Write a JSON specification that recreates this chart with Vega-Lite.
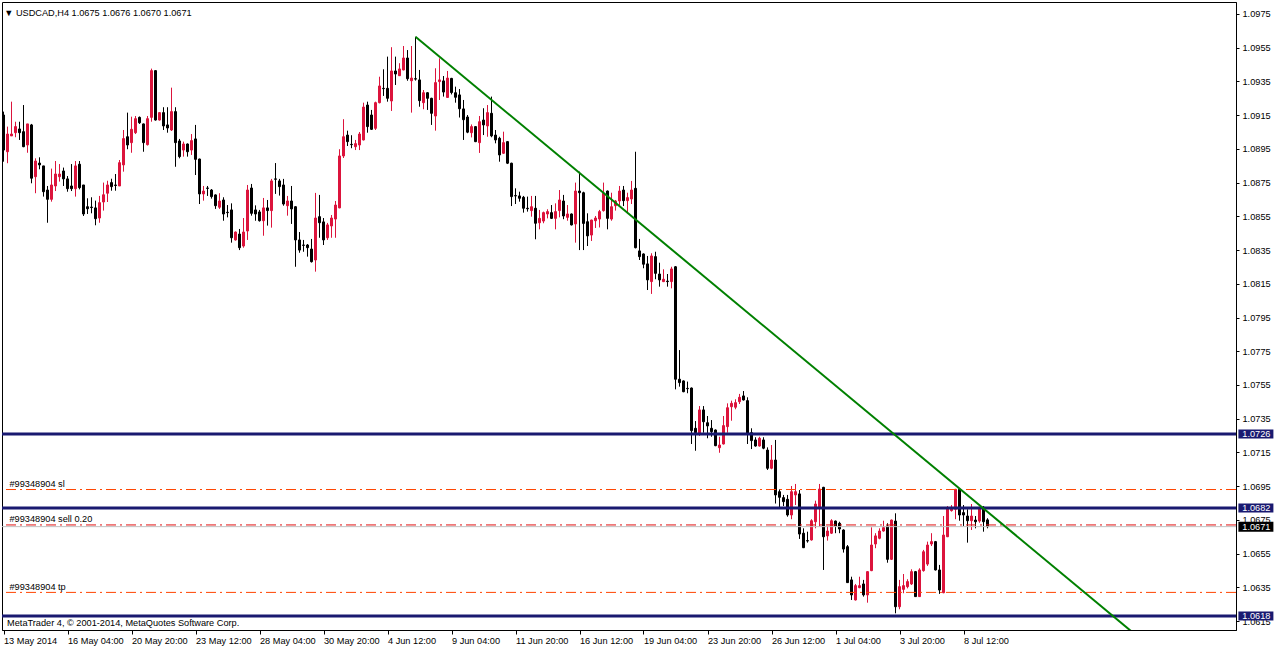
{
"$schema": "https://vega.github.io/schema/vega-lite/v6.json",
"width": 1234, "height": 628,
"autosize": {"type": "none"},
"padding": {"left": 2, "top": 2, "right": 40, "bottom": 18},
"background": "white",
"config": {"view": {"stroke": "#000000", "strokeWidth": 1}, "font": "Liberation Sans"},
"resolve": {"axis": {"x": "independent", "y": "independent"}},
"datasets": {
"candles": [
{"i":0,"o":1.09151,"h":1.09171,"l":1.08874,"c":1.08943},
{"i":1,"o":1.08933,"h":1.09082,"l":1.08865,"c":1.09038},
{"i":2,"o":1.09027,"h":1.09230,"l":1.09027,"c":1.09038},
{"i":3,"o":1.09046,"h":1.09111,"l":1.09019,"c":1.09082},
{"i":4,"o":1.09068,"h":1.09111,"l":1.09003,"c":1.09046},
{"i":5,"o":1.09052,"h":1.09210,"l":1.08960,"c":1.08963},
{"i":6,"o":1.08973,"h":1.09098,"l":1.08927,"c":1.09098},
{"i":7,"o":1.09092,"h":1.09098,"l":1.08746,"c":1.08776},
{"i":8,"o":1.08785,"h":1.08894,"l":1.08687,"c":1.08878},
{"i":9,"o":1.08866,"h":1.08900,"l":1.08829,"c":1.08855},
{"i":10,"o":1.08849,"h":1.08849,"l":1.08667,"c":1.08696},
{"i":11,"o":1.08706,"h":1.08730,"l":1.08512,"c":1.08651},
{"i":12,"o":1.08651,"h":1.08833,"l":1.08637,"c":1.08736},
{"i":13,"o":1.08730,"h":1.08878,"l":1.08700,"c":1.08801},
{"i":14,"o":1.08785,"h":1.08860,"l":1.08756,"c":1.08801},
{"i":15,"o":1.08819,"h":1.08839,"l":1.08730,"c":1.08772},
{"i":16,"o":1.08772,"h":1.08789,"l":1.08696,"c":1.08714},
{"i":17,"o":1.08730,"h":1.08860,"l":1.08700,"c":1.08714},
{"i":18,"o":1.08714,"h":1.08878,"l":1.08667,"c":1.08849},
{"i":19,"o":1.08859,"h":1.08878,"l":1.08710,"c":1.08720},
{"i":20,"o":1.08736,"h":1.08736,"l":1.08552,"c":1.08564},
{"i":21,"o":1.08607,"h":1.08657,"l":1.08564,"c":1.08595},
{"i":22,"o":1.08605,"h":1.08663,"l":1.08568,"c":1.08602},
{"i":23,"o":1.08600,"h":1.08643,"l":1.08497,"c":1.08536},
{"i":24,"o":1.08540,"h":1.08671,"l":1.08512,"c":1.08631},
{"i":25,"o":1.08635,"h":1.08750,"l":1.08584,"c":1.08678},
{"i":26,"o":1.08687,"h":1.08761,"l":1.08635,"c":1.08736},
{"i":27,"o":1.08750,"h":1.08773,"l":1.08702,"c":1.08726},
{"i":28,"o":1.08736,"h":1.08801,"l":1.08702,"c":1.08733},
{"i":29,"o":1.08730,"h":1.08884,"l":1.08730,"c":1.08868},
{"i":30,"o":1.08855,"h":1.09062,"l":1.08815,"c":1.09011},
{"i":31,"o":1.09022,"h":1.09165,"l":1.08948,"c":1.08973},
{"i":32,"o":1.08987,"h":1.09141,"l":1.08927,"c":1.09066},
{"i":33,"o":1.09046,"h":1.09145,"l":1.09038,"c":1.09129},
{"i":34,"o":1.09137,"h":1.09142,"l":1.09098,"c":1.09105},
{"i":35,"o":1.09098,"h":1.09100,"l":1.08933,"c":1.08987},
{"i":36,"o":1.08975,"h":1.09145,"l":1.08970,"c":1.09129},
{"i":37,"o":1.09137,"h":1.09426,"l":1.09111,"c":1.09414},
{"i":38,"o":1.09414,"h":1.09416,"l":1.09118,"c":1.09121},
{"i":39,"o":1.09121,"h":1.09167,"l":1.09118,"c":1.09165},
{"i":40,"o":1.09165,"h":1.09197,"l":1.09062,"c":1.09086},
{"i":41,"o":1.09092,"h":1.09197,"l":1.09046,"c":1.09074},
{"i":42,"o":1.09062,"h":1.09313,"l":1.09056,"c":1.09171},
{"i":43,"o":1.09171,"h":1.09197,"l":1.08844,"c":1.08987},
{"i":44,"o":1.08997,"h":1.09009,"l":1.08894,"c":1.08904},
{"i":45,"o":1.08943,"h":1.08993,"l":1.08904,"c":1.08979},
{"i":46,"o":1.08979,"h":1.08982,"l":1.08904,"c":1.08933},
{"i":47,"o":1.08943,"h":1.09038,"l":1.08914,"c":1.08999},
{"i":48,"o":1.09009,"h":1.09092,"l":1.08795,"c":1.08888},
{"i":49,"o":1.08890,"h":1.08892,"l":1.08623,"c":1.08683},
{"i":50,"o":1.08683,"h":1.08730,"l":1.08643,"c":1.08700},
{"i":51,"o":1.08718,"h":1.08730,"l":1.08671,"c":1.08716},
{"i":52,"o":1.08706,"h":1.08712,"l":1.08655,"c":1.08667},
{"i":53,"o":1.08677,"h":1.08680,"l":1.08594,"c":1.08613},
{"i":54,"o":1.08604,"h":1.08687,"l":1.08594,"c":1.08641},
{"i":55,"o":1.08647,"h":1.08663,"l":1.08524,"c":1.08564},
{"i":56,"o":1.08574,"h":1.08617,"l":1.08544,"c":1.08572},
{"i":57,"o":1.08588,"h":1.08627,"l":1.08394,"c":1.08423},
{"i":58,"o":1.08410,"h":1.08460,"l":1.08406,"c":1.08457},
{"i":59,"o":1.08445,"h":1.08475,"l":1.08350,"c":1.08364},
{"i":60,"o":1.08374,"h":1.08540,"l":1.08364,"c":1.08457},
{"i":61,"o":1.08463,"h":1.08736,"l":1.08410,"c":1.08706},
{"i":62,"o":1.08718,"h":1.08742,"l":1.08554,"c":1.08568},
{"i":63,"o":1.08588,"h":1.08615,"l":1.08524,"c":1.08564},
{"i":64,"o":1.08576,"h":1.08588,"l":1.08519,"c":1.08524},
{"i":65,"o":1.08524,"h":1.08659,"l":1.08435,"c":1.08600},
{"i":66,"o":1.08600,"h":1.08647,"l":1.08495,"c":1.08584},
{"i":67,"o":1.08584,"h":1.08772,"l":1.08483,"c":1.08760},
{"i":68,"o":1.08772,"h":1.08866,"l":1.08683,"c":1.08770},
{"i":69,"o":1.08760,"h":1.08772,"l":1.08673,"c":1.08726},
{"i":70,"o":1.08736,"h":1.08772,"l":1.08613,"c":1.08623},
{"i":71,"o":1.08613,"h":1.08671,"l":1.08554,"c":1.08641},
{"i":72,"o":1.08641,"h":1.08730,"l":1.08505,"c":1.08594},
{"i":73,"o":1.08607,"h":1.08610,"l":1.08251,"c":1.08410},
{"i":74,"o":1.08410,"h":1.08457,"l":1.08334,"c":1.08350},
{"i":75,"o":1.08380,"h":1.08410,"l":1.08340,"c":1.08378},
{"i":76,"o":1.08380,"h":1.08386,"l":1.08311,"c":1.08364},
{"i":77,"o":1.08356,"h":1.08416,"l":1.08276,"c":1.08281},
{"i":78,"o":1.08291,"h":1.08689,"l":1.08222,"c":1.08540},
{"i":79,"o":1.08548,"h":1.08677,"l":1.08423,"c":1.08512},
{"i":80,"o":1.08517,"h":1.08540,"l":1.08380,"c":1.08410},
{"i":81,"o":1.08423,"h":1.08511,"l":1.08410,"c":1.08499},
{"i":82,"o":1.08493,"h":1.08558,"l":1.08423,"c":1.08540},
{"i":83,"o":1.08534,"h":1.08641,"l":1.08423,"c":1.08617},
{"i":84,"o":1.08600,"h":1.08948,"l":1.08598,"c":1.08908},
{"i":85,"o":1.08908,"h":1.09126,"l":1.08896,"c":1.09022},
{"i":86,"o":1.09032,"h":1.09058,"l":1.08967,"c":1.08993},
{"i":87,"o":1.08977,"h":1.09031,"l":1.08954,"c":1.08975},
{"i":88,"o":1.08963,"h":1.09003,"l":1.08943,"c":1.08981},
{"i":89,"o":1.08973,"h":1.09050,"l":1.08943,"c":1.09038},
{"i":90,"o":1.09003,"h":1.09224,"l":1.09000,"c":1.09198},
{"i":91,"o":1.09210,"h":1.09230,"l":1.09046,"c":1.09082},
{"i":92,"o":1.09151,"h":1.09181,"l":1.09062,"c":1.09066},
{"i":93,"o":1.09072,"h":1.09230,"l":1.09062,"c":1.09224},
{"i":94,"o":1.09224,"h":1.09378,"l":1.09220,"c":1.09323},
{"i":95,"o":1.09309,"h":1.09422,"l":1.09264,"c":1.09307},
{"i":96,"o":1.09309,"h":1.09497,"l":1.09230,"c":1.09250},
{"i":97,"o":1.09234,"h":1.09553,"l":1.09175,"c":1.09412},
{"i":98,"o":1.09412,"h":1.09497,"l":1.09329,"c":1.09394},
{"i":99,"o":1.09384,"h":1.09458,"l":1.09382,"c":1.09424},
{"i":100,"o":1.09418,"h":1.09560,"l":1.09416,"c":1.09489},
{"i":101,"o":1.09489,"h":1.09536,"l":1.09354,"c":1.09366},
{"i":102,"o":1.09354,"h":1.09560,"l":1.09165,"c":1.09370},
{"i":103,"o":1.09366,"h":1.09615,"l":1.09355,"c":1.09364},
{"i":104,"o":1.09359,"h":1.09418,"l":1.09200,"c":1.09236},
{"i":105,"o":1.09224,"h":1.09299,"l":1.09185,"c":1.09283},
{"i":106,"o":1.09283,"h":1.09286,"l":1.09181,"c":1.09250},
{"i":107,"o":1.09250,"h":1.09253,"l":1.09092,"c":1.09161},
{"i":108,"o":1.09145,"h":1.09428,"l":1.09058,"c":1.09343},
{"i":109,"o":1.09349,"h":1.09487,"l":1.09240,"c":1.09359},
{"i":110,"o":1.09353,"h":1.09382,"l":1.09260,"c":1.09287},
{"i":111,"o":1.09255,"h":1.09412,"l":1.09252,"c":1.09370},
{"i":112,"o":1.09368,"h":1.09371,"l":1.09273,"c":1.09284},
{"i":113,"o":1.09283,"h":1.09319,"l":1.09224,"c":1.09256},
{"i":114,"o":1.09270,"h":1.09305,"l":1.09136,"c":1.09188},
{"i":115,"o":1.09187,"h":1.09240,"l":1.09003,"c":1.09123},
{"i":116,"o":1.09139,"h":1.09151,"l":1.09043,"c":1.09049},
{"i":117,"o":1.09046,"h":1.09095,"l":1.09018,"c":1.09082},
{"i":118,"o":1.09082,"h":1.09085,"l":1.08990,"c":1.08993},
{"i":119,"o":1.08987,"h":1.09145,"l":1.08926,"c":1.09111},
{"i":120,"o":1.09121,"h":1.09191,"l":1.09032,"c":1.09092},
{"i":121,"o":1.09086,"h":1.09210,"l":1.09022,"c":1.09165},
{"i":122,"o":1.09161,"h":1.09260,"l":1.09019,"c":1.09027},
{"i":123,"o":1.09032,"h":1.09062,"l":1.08983,"c":1.09003},
{"i":124,"o":1.09013,"h":1.09022,"l":1.08874,"c":1.08914},
{"i":125,"o":1.08924,"h":1.09052,"l":1.08920,"c":1.08987},
{"i":126,"o":1.08993,"h":1.08996,"l":1.08860,"c":1.08865},
{"i":127,"o":1.08865,"h":1.08868,"l":1.08611,"c":1.08667},
{"i":128,"o":1.08673,"h":1.08716,"l":1.08623,"c":1.08671},
{"i":129,"o":1.08671,"h":1.08696,"l":1.08637,"c":1.08657},
{"i":130,"o":1.08663,"h":1.08671,"l":1.08572,"c":1.08598},
{"i":131,"o":1.08598,"h":1.08667,"l":1.08578,"c":1.08595},
{"i":132,"o":1.08584,"h":1.08671,"l":1.08548,"c":1.08607},
{"i":133,"o":1.08598,"h":1.08671,"l":1.08414,"c":1.08509},
{"i":134,"o":1.08512,"h":1.08588,"l":1.08473,"c":1.08538},
{"i":135,"o":1.08522,"h":1.08578,"l":1.08509,"c":1.08572},
{"i":136,"o":1.08564,"h":1.08592,"l":1.08538,"c":1.08578},
{"i":137,"o":1.08572,"h":1.08617,"l":1.08534,"c":1.08538},
{"i":138,"o":1.08538,"h":1.08627,"l":1.08473,"c":1.08578},
{"i":139,"o":1.08584,"h":1.08706,"l":1.08544,"c":1.08647},
{"i":140,"o":1.08641,"h":1.08677,"l":1.08533,"c":1.08552},
{"i":141,"o":1.08544,"h":1.08617,"l":1.08524,"c":1.08564},
{"i":142,"o":1.08564,"h":1.08567,"l":1.08496,"c":1.08499},
{"i":143,"o":1.08505,"h":1.08750,"l":1.08394,"c":1.08700},
{"i":144,"o":1.08700,"h":1.08815,"l":1.08350,"c":1.08690},
{"i":145,"o":1.08690,"h":1.08696,"l":1.08350,"c":1.08508},
{"i":146,"o":1.08518,"h":1.08568,"l":1.08374,"c":1.08434},
{"i":147,"o":1.08439,"h":1.08530,"l":1.08404,"c":1.08528},
{"i":148,"o":1.08524,"h":1.08552,"l":1.08481,"c":1.08540},
{"i":149,"o":1.08534,"h":1.08588,"l":1.08484,"c":1.08578},
{"i":150,"o":1.08584,"h":1.08750,"l":1.08578,"c":1.08687},
{"i":151,"o":1.08700,"h":1.08703,"l":1.08473,"c":1.08538},
{"i":152,"o":1.08534,"h":1.08690,"l":1.08524,"c":1.08607},
{"i":153,"o":1.08613,"h":1.08647,"l":1.08584,"c":1.08641},
{"i":154,"o":1.08641,"h":1.08730,"l":1.08617,"c":1.08700},
{"i":155,"o":1.08706,"h":1.08730,"l":1.08611,"c":1.08643},
{"i":156,"o":1.08643,"h":1.08690,"l":1.08572,"c":1.08661},
{"i":157,"o":1.08653,"h":1.08760,"l":1.08623,"c":1.08706},
{"i":158,"o":1.08716,"h":1.08933,"l":1.08360,"c":1.08364},
{"i":159,"o":1.08345,"h":1.08416,"l":1.08291,"c":1.08311},
{"i":160,"o":1.08327,"h":1.08330,"l":1.08242,"c":1.08266},
{"i":161,"o":1.08268,"h":1.08315,"l":1.08113,"c":1.08173},
{"i":162,"o":1.08163,"h":1.08331,"l":1.08090,"c":1.08315},
{"i":163,"o":1.08311,"h":1.08340,"l":1.08177,"c":1.08212},
{"i":164,"o":1.08208,"h":1.08275,"l":1.08133,"c":1.08173},
{"i":165,"o":1.08163,"h":1.08236,"l":1.08160,"c":1.08177},
{"i":166,"o":1.08166,"h":1.08208,"l":1.08133,"c":1.08163},
{"i":167,"o":1.08163,"h":1.08251,"l":1.08123,"c":1.08238},
{"i":168,"o":1.08251,"h":1.08255,"l":1.07524,"c":1.07584},
{"i":169,"o":1.07584,"h":1.07757,"l":1.07540,"c":1.07564},
{"i":170,"o":1.07574,"h":1.07577,"l":1.07507,"c":1.07510},
{"i":171,"o":1.07530,"h":1.07570,"l":1.07501,"c":1.07528},
{"i":172,"o":1.07532,"h":1.07535,"l":1.07200,"c":1.07279},
{"i":173,"o":1.07293,"h":1.07336,"l":1.07160,"c":1.07267},
{"i":174,"o":1.07259,"h":1.07425,"l":1.07248,"c":1.07402},
{"i":175,"o":1.07402,"h":1.07425,"l":1.07267,"c":1.07332},
{"i":176,"o":1.07326,"h":1.07366,"l":1.07234,"c":1.07307},
{"i":177,"o":1.07293,"h":1.07342,"l":1.07243,"c":1.07273},
{"i":178,"o":1.07283,"h":1.07286,"l":1.07187,"c":1.07190},
{"i":179,"o":1.07178,"h":1.07243,"l":1.07148,"c":1.07194},
{"i":180,"o":1.07200,"h":1.07366,"l":1.07197,"c":1.07309},
{"i":181,"o":1.07303,"h":1.07441,"l":1.07267,"c":1.07415},
{"i":182,"o":1.07421,"h":1.07457,"l":1.07338,"c":1.07441},
{"i":183,"o":1.07418,"h":1.07465,"l":1.07406,"c":1.07445},
{"i":184,"o":1.07451,"h":1.07497,"l":1.07437,"c":1.07477},
{"i":185,"o":1.07485,"h":1.07514,"l":1.07458,"c":1.07461},
{"i":186,"o":1.07457,"h":1.07477,"l":1.07200,"c":1.07259},
{"i":187,"o":1.07267,"h":1.07293,"l":1.07170,"c":1.07220},
{"i":188,"o":1.07224,"h":1.07240,"l":1.07184,"c":1.07188},
{"i":189,"o":1.07188,"h":1.07243,"l":1.07185,"c":1.07234},
{"i":190,"o":1.07224,"h":1.07240,"l":1.07169,"c":1.07175},
{"i":191,"o":1.07164,"h":1.07180,"l":1.07046,"c":1.07056},
{"i":192,"o":1.07056,"h":1.07194,"l":1.07050,"c":1.07105},
{"i":193,"o":1.07105,"h":1.07224,"l":1.06847,"c":1.06898},
{"i":194,"o":1.06917,"h":1.06931,"l":1.06819,"c":1.06884},
{"i":195,"o":1.06882,"h":1.06898,"l":1.06832,"c":1.06858},
{"i":196,"o":1.06872,"h":1.06898,"l":1.06769,"c":1.06779},
{"i":197,"o":1.06779,"h":1.06951,"l":1.06754,"c":1.06917},
{"i":198,"o":1.06898,"h":1.06963,"l":1.06838,"c":1.06917},
{"i":199,"o":1.06904,"h":1.06927,"l":1.06637,"c":1.06666},
{"i":200,"o":1.06671,"h":1.06700,"l":1.06583,"c":1.06585},
{"i":201,"o":1.06627,"h":1.06680,"l":1.06615,"c":1.06625},
{"i":202,"o":1.06631,"h":1.06754,"l":1.06627,"c":1.06745},
{"i":203,"o":1.06739,"h":1.06864,"l":1.06700,"c":1.06844},
{"i":204,"o":1.06819,"h":1.06963,"l":1.06710,"c":1.06933},
{"i":205,"o":1.06943,"h":1.06946,"l":1.06453,"c":1.06650},
{"i":206,"o":1.06655,"h":1.06714,"l":1.06627,"c":1.06684},
{"i":207,"o":1.06671,"h":1.06754,"l":1.06666,"c":1.06745},
{"i":208,"o":1.06743,"h":1.06746,"l":1.06671,"c":1.06714},
{"i":209,"o":1.06730,"h":1.06739,"l":1.06671,"c":1.06696},
{"i":210,"o":1.06690,"h":1.06694,"l":1.06556,"c":1.06577},
{"i":211,"o":1.06591,"h":1.06601,"l":1.06376,"c":1.06378},
{"i":212,"o":1.06394,"h":1.06413,"l":1.06275,"c":1.06305},
{"i":213,"o":1.06275,"h":1.06370,"l":1.06272,"c":1.06360},
{"i":214,"o":1.06348,"h":1.06413,"l":1.06345,"c":1.06360},
{"i":215,"o":1.06370,"h":1.06394,"l":1.06295,"c":1.06305},
{"i":216,"o":1.06305,"h":1.06446,"l":1.06259,"c":1.06443},
{"i":217,"o":1.06449,"h":1.06706,"l":1.06446,"c":1.06601},
{"i":218,"o":1.06607,"h":1.06671,"l":1.06582,"c":1.06655},
{"i":219,"o":1.06641,"h":1.06700,"l":1.06635,"c":1.06684},
{"i":220,"o":1.06684,"h":1.06745,"l":1.06680,"c":1.06704},
{"i":221,"o":1.06714,"h":1.06730,"l":1.06496,"c":1.06516},
{"i":222,"o":1.06516,"h":1.06752,"l":1.06512,"c":1.06749},
{"i":223,"o":1.06743,"h":1.06789,"l":1.06196,"c":1.06235},
{"i":224,"o":1.06235,"h":1.06394,"l":1.06220,"c":1.06354},
{"i":225,"o":1.06338,"h":1.06429,"l":1.06315,"c":1.06360},
{"i":226,"o":1.06354,"h":1.06398,"l":1.06344,"c":1.06384},
{"i":227,"o":1.06370,"h":1.06457,"l":1.06364,"c":1.06443},
{"i":228,"o":1.06443,"h":1.06447,"l":1.06293,"c":1.06295},
{"i":229,"o":1.06295,"h":1.06463,"l":1.06293,"c":1.06453},
{"i":230,"o":1.06449,"h":1.06572,"l":1.06443,"c":1.06561},
{"i":231,"o":1.06488,"h":1.06621,"l":1.06477,"c":1.06601},
{"i":232,"o":1.06607,"h":1.06671,"l":1.06595,"c":1.06621},
{"i":233,"o":1.06621,"h":1.06625,"l":1.06450,"c":1.06453},
{"i":234,"o":1.06453,"h":1.06483,"l":1.06311,"c":1.06334},
{"i":235,"o":1.06318,"h":1.06773,"l":1.06315,"c":1.06660},
{"i":236,"o":1.06650,"h":1.06832,"l":1.06648,"c":1.06819},
{"i":237,"o":1.06805,"h":1.06838,"l":1.06799,"c":1.06825},
{"i":238,"o":1.06813,"h":1.06934,"l":1.06754,"c":1.06931},
{"i":239,"o":1.06931,"h":1.06934,"l":1.06745,"c":1.06779},
{"i":240,"o":1.06793,"h":1.06838,"l":1.06714,"c":1.06779},
{"i":241,"o":1.06773,"h":1.06813,"l":1.06615,"c":1.06745},
{"i":242,"o":1.06745,"h":1.06844,"l":1.06690,"c":1.06773},
{"i":243,"o":1.06749,"h":1.06773,"l":1.06700,"c":1.06739},
{"i":244,"o":1.06743,"h":1.06828,"l":1.06733,"c":1.06825},
{"i":245,"o":1.06825,"h":1.06832,"l":1.06680,"c":1.06739},
{"i":246,"o":1.0675,"h":1.0676,"l":1.0670,"c":1.0671}
],
"levels": [{"p":1.0726,"t":"1.0726"},{"p":1.0682,"t":"1.0682"},{"p":1.0618,"t":"1.0618"}],
"orders": [{"p":1.0693,"t":"#99348904 sl"},{"p":1.0632,"t":"#99348904 tp"}],
"sell": [{"p":1.0672,"t":"#99348904 sell 0.20"}],
"bid": [{"p":1.0671,"t":"1.0671"}],
"trend": [{"i":103,"p":1.09615},{"i":300,"p":1.05734}]
},
"layer": [
{
"data": {"name": "candles"},
"mark": {"type": "rule", "strokeWidth": 1},
"encoding": {
"x": {"field": "i", "type": "quantitative",
"scale": {"domain": [-0.375, 308.125], "nice": false, "zero": false, "padding": 0},
"axis": {"orient": "bottom", "title": null, "grid": false,
"values": [0,16,32,48,64,80,96,112,128,144,160,176,192,208,224,240],
"labelExpr": "['13 May 2014','16 May 04:00','20 May 20:00','23 May 12:00','28 May 04:00','30 May 20:00','4 Jun 12:00','9 Jun 04:00','11 Jun 20:00','16 Jun 12:00','19 Jun 04:00','23 Jun 20:00','26 Jun 12:00','1 Jul 04:00','3 Jul 20:00','8 Jul 12:00'][round(datum.value/16)]",
"labelAlign": "left", "labelBaseline": "top", "labelPadding": 2, "tickSize": 4,
"labelFlush": false, "labelOverlap": false, "labelBound": false,
"labelFont": "Liberation Sans", "labelFontSize": 9.2, "labelColor": "#000000",
"tickColor": "#000000", "domainColor": "#000000"}},
"y": {"field": "l", "type": "quantitative",
"scale": {"domain": [1.06097, 1.09821], "nice": false, "zero": false, "padding": 0},
"axis": {"orient": "right", "title": null, "grid": false,
"values": [1.0615,1.0635,1.0655,1.0675,1.0695,1.0715,1.0735,1.0755,1.0775,1.0795,1.0815,1.0835,1.0855,1.0875,1.0895,1.0915,1.0935,1.0955,1.0975],
"format": ".4f", "tickSize": 3, "labelPadding": 3,
"labelFlush": false, "labelOverlap": false, "labelBound": false,
"labelFont": "Liberation Sans", "labelFontSize": 9.2, "labelColor": "#000000",
"tickColor": "#000000", "domainColor": "#000000"}},
"y2": {"field": "h"},
"color": {"condition": {"test": "datum.c < datum.o", "value": "#000000"}, "value": "#DC143C"}
}
},
{
"data": {"name": "candles"},
"mark": {"type": "bar", "size": 2, "strokeWidth": 1},
"encoding": {
"x": {"field": "i", "type": "quantitative", "axis": null},
"y": {"field": "o", "type": "quantitative", "axis": null},
"y2": {"field": "c"},
"fill": {"condition": {"test": "datum.c < datum.o", "value": "#000000"}, "value": "#DC143C"},
"stroke": {"condition": {"test": "datum.c < datum.o", "value": "#000000"}, "value": "#DC143C"}
}
},
{
"data": {"name": "bid"},
"mark": {"type": "rule", "stroke": "#C0C0C0", "strokeWidth": 1},
"encoding": {"y": {"field": "p", "type": "quantitative", "axis": null}}
},
{
"data": {"name": "sell"},
"mark": {"type": "rule", "stroke": "#E01010", "strokeWidth": 1, "strokeDash": [10, 4, 2, 4]},
"encoding": {"y": {"field": "p", "type": "quantitative", "axis": null}}
},
{
"data": {"name": "orders"},
"mark": {"type": "rule", "stroke": "#FF4500", "strokeWidth": 1, "strokeDash": [10, 4, 2, 4]},
"encoding": {"y": {"field": "p", "type": "quantitative", "axis": null}}
},
{
"data": {"name": "levels"},
"mark": {"type": "rule", "stroke": "#191970", "strokeWidth": 3},
"encoding": {"y": {"field": "p", "type": "quantitative", "axis": null}}
},
{
"data": {"name": "trend"},
"mark": {"type": "line", "stroke": "#008000", "strokeWidth": 2, "clip": true},
"encoding": {
"x": {"field": "i", "type": "quantitative", "axis": null},
"y": {"field": "p", "type": "quantitative", "axis": null}
}
},
{
"data": {"name": "orders"},
"mark": {"type": "text", "align": "left", "baseline": "alphabetic", "dy": -2.5, "font": "Liberation Sans", "fontSize": 9.2, "fill": "#000000"},
"encoding": {
"x": {"datum": 1.5, "type": "quantitative", "axis": null},
"y": {"field": "p", "type": "quantitative", "axis": null},
"text": {"field": "t"}
}
},
{
"data": {"name": "sell"},
"mark": {"type": "text", "align": "left", "baseline": "alphabetic", "dy": -2.5, "font": "Liberation Sans", "fontSize": 9.2, "fill": "#000000"},
"encoding": {
"x": {"datum": 1.5, "type": "quantitative", "axis": null},
"y": {"field": "p", "type": "quantitative", "axis": null},
"text": {"field": "t"}
}
},
{
"data": {"values": [{"t": "▼ USDCAD,H4  1.0675 1.0676 1.0670 1.0671"}]},
"mark": {"type": "text", "align": "left", "baseline": "alphabetic", "font": "Liberation Sans", "fontSize": 9.2, "fill": "#000000"},
"encoding": {
"x": {"datum": 0.2, "type": "quantitative", "axis": null},
"y": {"datum": 1.09738, "type": "quantitative", "axis": null},
"text": {"field": "t"}
}
},
{
"data": {"values": [{"t": "MetaTrader 4, © 2001-2014, MetaQuotes Software Corp."}]},
"mark": {"type": "text", "align": "left", "baseline": "alphabetic", "font": "Liberation Sans", "fontSize": 9.2, "fill": "#000000"},
"encoding": {
"x": {"datum": 0.9, "type": "quantitative", "axis": null},
"y": {"datum": 1.06121, "type": "quantitative", "axis": null},
"text": {"field": "t"}
}
},
{
"data": {"name": "levels"},
"mark": {"type": "tick", "orient": "horizontal", "size": 35, "thickness": 9, "color": "#191970", "opacity": 1},
"encoding": {
"x": {"datum": 313.1, "type": "quantitative", "axis": null},
"y": {"field": "p", "type": "quantitative", "axis": null}
}
},
{
"data": {"name": "bid"},
"mark": {"type": "tick", "orient": "horizontal", "size": 35, "thickness": 10, "color": "#000000", "opacity": 1},
"encoding": {
"x": {"datum": 313.1, "type": "quantitative", "axis": null},
"y": {"field": "p", "type": "quantitative", "axis": null}
}
},
{
"data": {"name": "levels"},
"mark": {"type": "text", "align": "left", "baseline": "middle", "font": "Liberation Sans", "fontSize": 9.2, "fill": "#FFFFFF"},
"encoding": {
"x": {"datum": 309.7, "type": "quantitative", "axis": null},
"y": {"field": "p", "type": "quantitative", "axis": null},
"text": {"field": "t"}
}
},
{
"data": {"name": "bid"},
"mark": {"type": "text", "align": "left", "baseline": "middle", "font": "Liberation Sans", "fontSize": 9.2, "fill": "#FFFFFF"},
"encoding": {
"x": {"datum": 309.7, "type": "quantitative", "axis": null},
"y": {"field": "p", "type": "quantitative", "axis": null},
"text": {"field": "t"}
}
}
]
}
